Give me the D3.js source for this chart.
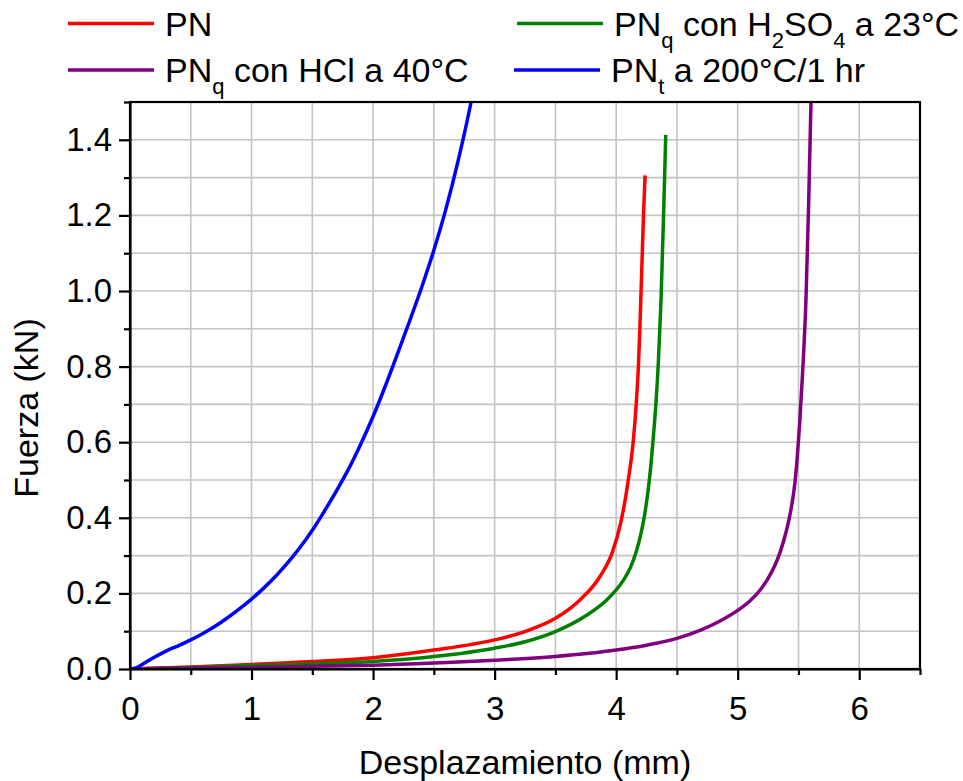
<!DOCTYPE html>
<html>
<head>
<meta charset="utf-8">
<script src="https://cdn.jsdelivr.net/npm/d3@7"></script>
<style>
  html, body { margin: 0; padding: 0; background: #fff; }
  svg { display: block; font-family: "Liberation Sans", Arial, sans-serif; }
</style>
</head>
<body>
<svg id="chart" width="963" height="781"></svg>
<script>
// Force–displacement curves (x: mm, y: kN)
const seriesNames = ["PN", "PNq_H2SO4", "PNq_HCl", "PNt_200"];
const seriesColors = ["#ff0000", "#008000", "#800080", "#0000ff"];

const pnData = [
  [0, 0], [0.5, 0.005], [1, 0.012], [1.5, 0.02], [2, 0.03], [2.5, 0.05],
  [3, 0.077], [3.25, 0.099], [3.5, 0.134], [3.7, 0.182], [3.87, 0.246],
  [3.97, 0.31], [4.04, 0.39], [4.10, 0.50], [4.14, 0.60], [4.165, 0.70],
  [4.183, 0.80], [4.195, 0.90], [4.205, 1.0], [4.215, 1.1], [4.225, 1.2],
  [4.238, 1.306]
];
const pnqH2so4Data = [
  [0, 0], [0.5, 0.004], [1, 0.009], [1.5, 0.014], [2, 0.02], [2.5, 0.033],
  [3, 0.055], [3.25, 0.072], [3.5, 0.099], [3.76, 0.143], [3.92, 0.182],
  [4.06, 0.235], [4.12, 0.27], [4.165, 0.31], [4.2, 0.352], [4.23, 0.40],
  [4.258, 0.46], [4.283, 0.53], [4.305, 0.61], [4.327, 0.70], [4.347, 0.81],
  [4.369, 0.975], [4.39, 1.2], [4.408, 1.413]
];
const pnqHclData = [
  [0, 0], [0.5, 0.002], [1, 0.004], [1.5, 0.007], [2, 0.01], [2.5, 0.016],
  [3, 0.023], [3.5, 0.033], [4, 0.05], [4.25, 0.063], [4.5, 0.081],
  [4.7, 0.1035], [4.855, 0.127], [5, 0.155], [5.1, 0.18], [5.18, 0.207],
  [5.25, 0.24], [5.3, 0.27], [5.35, 0.31], [5.4, 0.365], [5.44, 0.425],
  [5.47, 0.49], [5.49, 0.56], [5.51, 0.65], [5.535, 0.79], [5.562, 0.98],
  [5.583, 1.22], [5.603, 1.5], [5.606, 1.55]
];
const pntData = [
  [0, 0], [0.05, 0.003], [0.1, 0.012], [0.2, 0.031], [0.3, 0.048],
  [0.4, 0.062], [0.5, 0.077], [0.6, 0.094], [0.7, 0.113], [0.8, 0.135],
  [0.9, 0.159], [1.0, 0.185], [1.1, 0.214], [1.2, 0.246], [1.3, 0.282],
  [1.4, 0.322], [1.5, 0.367], [1.6, 0.418], [1.7, 0.472], [1.8, 0.53],
  [1.9, 0.596], [2.0, 0.668], [2.1, 0.748], [2.2, 0.833], [2.3, 0.92],
  [2.4, 1.01], [2.5, 1.108], [2.6, 1.218], [2.7, 1.345], [2.8, 1.49],
  [2.83, 1.54]
];
const seriesData = [pnData, pnqH2so4Data, pnqHclData, pntData];

const xTicks = [0, 1, 2, 3, 4, 5, 6];
const xMinorTicks = [0.5, 1.5, 2.5, 3.5, 4.5, 5.5, 6.5];
const yTicks = [0, 0.2, 0.4, 0.6, 0.8, 1.0, 1.2, 1.4];
const yMinorTicks = [0.1, 0.3, 0.5, 0.7, 0.9, 1.1, 1.3, 1.5];
const xGrid = [0.5, 1, 1.5, 2, 2.5, 3, 3.5, 4, 4.5, 5, 5.5, 6];
const yGrid = [0.1, 0.2, 0.3, 0.4, 0.5, 0.6, 0.7, 0.8, 0.9, 1.0, 1.1, 1.2, 1.3, 1.4];

const xTitle = "Desplazamiento (mm)";
const yTitle = "Fuerza (kN)";

const svg = d3.select("#chart");
const plot = { left: 130, right: 920, top: 102, bottom: 669 };

const x = d3.scaleLinear().domain([0, 6.5]).range([plot.left, plot.right]);
const y = d3.scaleLinear().domain([0, 1.5]).range([plot.bottom, plot.top]);

// grid
const grid = svg.append("g");
grid.selectAll("line.gx").data(xGrid).join("line")
  .attr("x1", d => x(d)).attr("x2", d => x(d))
  .attr("y1", plot.top).attr("y2", plot.bottom)
  .attr("stroke", "#c4c4c4").attr("stroke-width", 1.6);
grid.selectAll("line.gy").data(yGrid).join("line")
  .attr("y1", d => y(d)).attr("y2", d => y(d))
  .attr("x1", plot.left).attr("x2", plot.right)
  .attr("stroke", "#c4c4c4").attr("stroke-width", 1.6);

// curves
svg.append("clipPath").attr("id", "clip").append("rect")
  .attr("x", plot.left).attr("y", plot.top)
  .attr("width", plot.right - plot.left).attr("height", plot.bottom - plot.top);

const line = d3.line()
  .x(d => x(d[0])).y(d => y(d[1]))
  .curve(d3.curveMonotoneX);

svg.append("g").attr("clip-path", "url(#clip)")
  .selectAll("path").data(seriesData).join("path")
  .attr("d", d => line(d))
  .attr("fill", "none")
  .attr("stroke", (d, i) => seriesColors[i])
  .attr("stroke-width", 3.5)
  .attr("stroke-linejoin", "round");

// frame
svg.append("rect")
  .attr("x", plot.left).attr("y", plot.top)
  .attr("width", plot.right - plot.left).attr("height", plot.bottom - plot.top)
  .attr("fill", "none").attr("stroke", "#000").attr("stroke-width", 2.2);

// axes
svg.append("g").attr("transform", `translate(0,${plot.bottom})`)
  .call(d3.axisBottom(x).tickValues(xTicks).tickFormat(d3.format("d"))
    .tickSizeInner(11).tickSizeOuter(0).tickPadding(17));
svg.append("g").attr("transform", `translate(0,${plot.bottom})`)
  .call(d3.axisBottom(x).tickValues(xMinorTicks).tickFormat("")
    .tickSizeInner(6).tickSizeOuter(0))
  .call(g => g.select(".domain").remove());

svg.append("g").attr("transform", `translate(${plot.left},0)`)
  .call(d3.axisLeft(y).tickValues(yTicks).tickFormat(d3.format(".1f"))
    .tickSizeInner(11).tickSizeOuter(0).tickPadding(7));
svg.append("g").attr("transform", `translate(${plot.left},0)`)
  .call(d3.axisLeft(y).tickValues(yMinorTicks).tickFormat("")
    .tickSizeInner(6).tickSizeOuter(0))
  .call(g => g.select(".domain").remove());

svg.selectAll(".tick line").attr("stroke", "#000").attr("stroke-width", 2.2);
svg.selectAll(".domain").attr("stroke", "#000").attr("stroke-width", 2.2);
svg.selectAll(".tick text")
  .attr("font-family", "'Liberation Sans', Arial, sans-serif")
  .attr("font-size", 33).attr("fill", "#000");

// axis titles
svg.append("text")
  .attr("x", (plot.left + plot.right) / 2).attr("y", 774)
  .attr("text-anchor", "middle").attr("font-size", 34).attr("fill", "#000")
  .text(xTitle);
svg.append("text")
  .attr("transform", "translate(38,408) rotate(-90)")
  .attr("text-anchor", "middle").attr("font-size", 34).attr("fill", "#000")
  .text(yTitle);

// legend
const legendItems = [
  { color: seriesColors[0], x: 68, y: 23.5, parts: [["PN", 0]] },
  { color: seriesColors[1], x: 517, y: 23.5, parts: [["PN", 0], ["q", 1], [" con H", 0], ["2", 1], ["SO", 0], ["4", 1], [" a 23°C", 0]] },
  { color: seriesColors[2], x: 68, y: 70, parts: [["PN", 0], ["q", 1], [" con HCl a 40°C", 0]] },
  { color: seriesColors[3], x: 514, y: 70, parts: [["PN", 0], ["t", 1], [" a 200°C/1 hr", 0]] }
];
const subShift = 12;
const legend = svg.append("g");
legendItems.forEach(item => {
  legend.append("line")
    .attr("x1", item.x).attr("x2", item.x + 86)
    .attr("y1", item.y).attr("y2", item.y)
    .attr("stroke", item.color).attr("stroke-width", 3.5);
  const t = legend.append("text")
    .attr("x", item.x + 97).attr("y", item.y + 12)
    .attr("font-size", 34).attr("fill", "#000");
  let shifted = false;
  item.parts.forEach(([s, sub]) => {
    let dy = 0;
    if (sub && !shifted) { dy = subShift; shifted = true; }
    else if (!sub && shifted) { dy = -subShift; shifted = false; }
    t.append("tspan")
      .attr("font-size", sub ? 22 : 34)
      .attr("dy", dy)
      .text(s);
  });
});
</script>
</body>
</html>
